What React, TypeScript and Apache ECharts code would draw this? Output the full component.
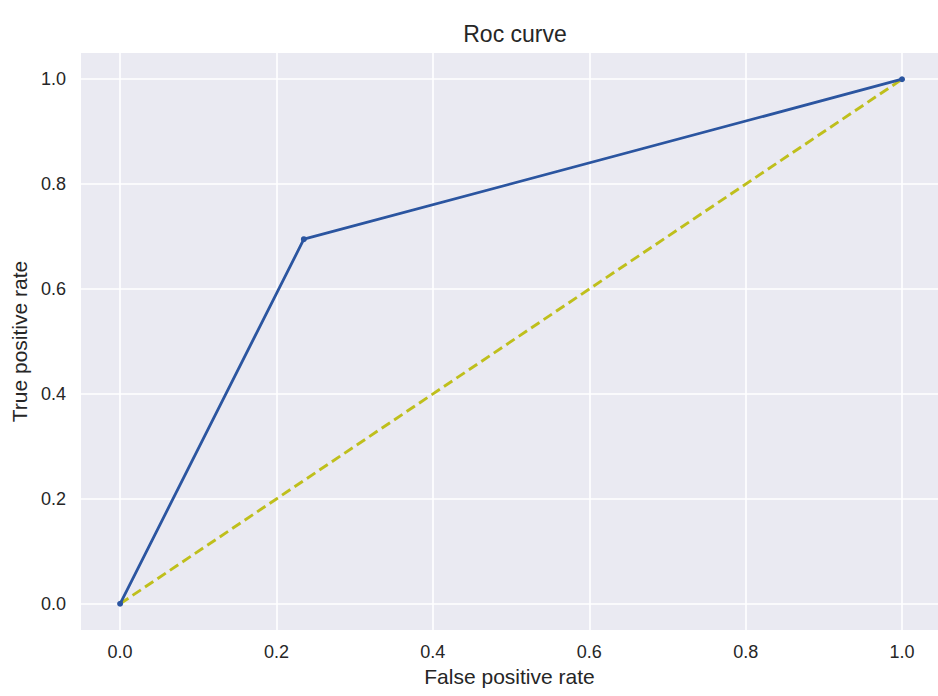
import React, { useEffect, useRef } from "react";
import * as echarts from "echarts";

const rocFpr = [0.0, 0.235, 1.0];
const rocTpr = [0.0, 0.695, 1.0];
const diagX = [0.0, 1.0];
const diagY = [0.0, 1.0];
const titleText = "Roc curve";
const xLabel = "False positive rate";
const yLabel = "True positive rate";

export default function App() {
  const ref = useRef<HTMLDivElement>(null);
  useEffect(() => {
    if (!ref.current) return;
    const chart = echarts.init(ref.current, undefined, { renderer: "svg" });
    const font = "Liberation Sans, Arial, sans-serif";
    const splitLine = {
      show: true,
      showMinLine: false,
      showMaxLine: false,
      lineStyle: { color: "#ffffff", width: 1.6 },
    };
    const labelBase = {
      showMinLabel: false,
      showMaxLabel: false,
      color: "#262626",
      fontSize: 18,
      fontFamily: font,
      formatter: (v: number) => v.toFixed(1),
    };
    const nameStyle = { color: "#262626", fontSize: 21, fontFamily: font };
    chart.setOption({
      animation: false,
      backgroundColor: "#ffffff",
      title: {
        text: titleText,
        left: 510,
        top: 17,
        textAlign: "center",
        textStyle: { color: "#262626", fontSize: 23, fontWeight: "normal", fontFamily: font },
      },
      grid: {
        left: 81,
        top: 53,
        right: 0,
        height: 577,
        show: true,
        backgroundColor: "#eaeaf2",
        borderWidth: 0,
      },
      xAxis: {
        type: "value",
        min: -0.05,
        max: 1.046,
        splitNumber: 5,
        axisLine: { show: false },
        axisTick: { show: false },
        splitLine,
        axisLabel: { ...labelBase, margin: 13 },
        name: xLabel,
        nameLocation: "middle",
        nameGap: 36,
        nameTextStyle: nameStyle,
      },
      yAxis: {
        type: "value",
        min: -0.05,
        max: 1.05,
        splitNumber: 5,
        axisLine: { show: false },
        axisTick: { show: false },
        splitLine,
        axisLabel: { ...labelBase, margin: 15 },
        name: yLabel,
        nameLocation: "middle",
        nameGap: 50,
        nameTextStyle: nameStyle,
      },
      series: [
        {
          type: "line",
          data: rocFpr.map((x, i) => [x, rocTpr[i]]),
          symbol: "circle",
          symbolSize: 6,
          itemStyle: { color: "#2b55a0" },
          lineStyle: { color: "#2b55a0", width: 2.8 },
          z: 3,
        },
        {
          type: "line",
          data: diagX.map((x, i) => [x, diagY[i]]),
          symbol: "none",
          lineStyle: { color: "#bfbf1c", width: 2.9, type: [10, 5] },
          z: 2,
        },
      ],
    });
    return () => chart.dispose();
  }, []);
  return (
    <div
      ref={ref}
      style={{ position: "fixed", left: 0, top: 0, width: 938, height: 696 }}
    />
  );
}
